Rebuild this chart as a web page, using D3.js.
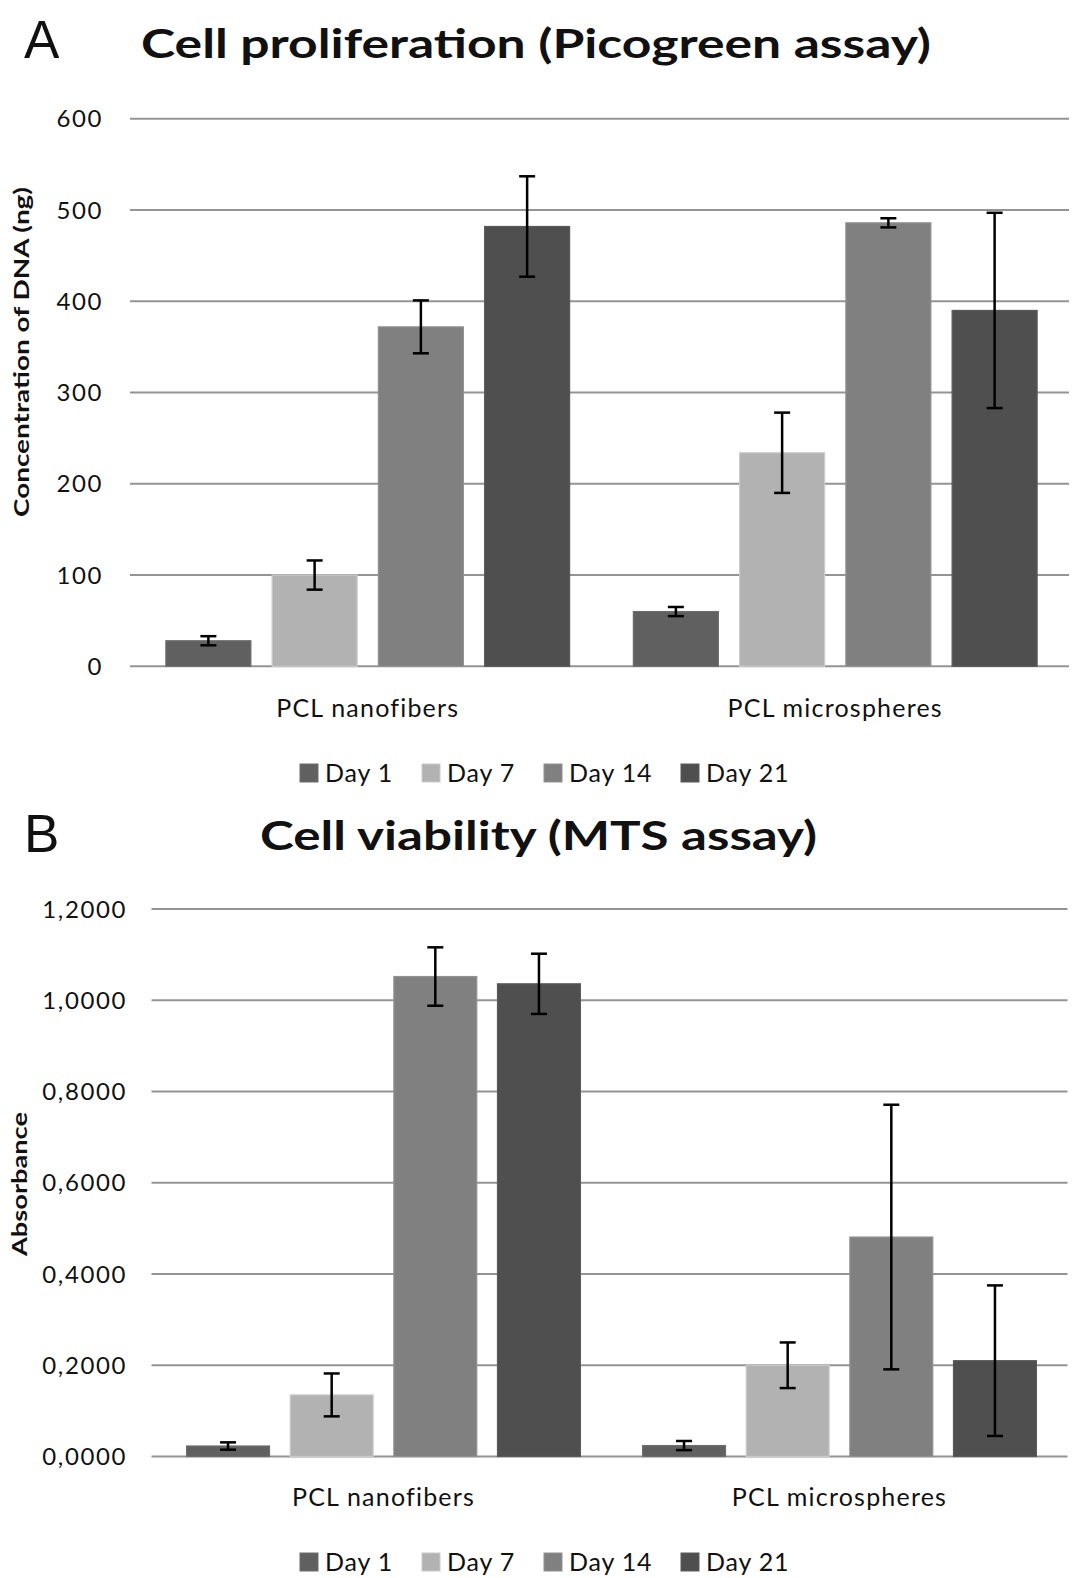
<!DOCTYPE html>
<html>
<head>
<meta charset="utf-8">
<script src="https://cdn.jsdelivr.net/npm/d3@7"></script>
<style>
  body { margin: 0; background: #fff; }
  text { font-family: Lato, 'Open Sans', sans-serif; fill: #111; }
</style>
</head>
<body>
<div id="chart"></div>
<script>
const groups = ['PCL nanofibers', 'PCL microspheres'];
const days = ['Day 1', 'Day 7', 'Day 14', 'Day 21'];
const dayColors = ['#606060', '#b2b2b2', '#808080', '#4f4f4f'];

// picogreen, ng DNA
const dnaMean = [[28, 100, 372, 482], [60, 234, 486, 390]];
const dnaErr = [[5, 16, 29, 55], [5, 44, 5, 107]];
const dnaTicks = [0, 100, 200, 300, 400, 500, 600];

// MTS absorbance
const mtsMean = [[0.023, 0.135, 1.052, 1.036], [0.024, 0.200, 0.481, 0.210]];
const mtsErr = [[0.008, 0.047, 0.064, 0.066], [0.010, 0.050, 0.290, 0.165]];
const mtsTicks = [0, 0.2, 0.4, 0.6, 0.8, 1.0, 1.2];

const comma = d3.formatLocale({ decimal: ',', thousands: '.', grouping: [3], currency: ['', ''] });

const svg = d3.select('#chart').append('svg')
    .attr('width', 1075)
    .attr('height', 1578);

function panel(opt) {
    const rows = [];
    groups.forEach((g, gi) => days.forEach((d, di) => {
        rows.push({ group: g, day: d, di, v: opt.mean[gi][di], e: opt.err[gi][di] });
    }));

    const x0 = d3.scaleBand().domain(groups).range([opt.left, opt.right]);
    const x1 = d3.scaleBand().domain(days).range([0, x0.bandwidth()]).paddingInner(0.2).paddingOuter(0.3);
    const y = d3.scaleLinear().domain([0, d3.max(opt.ticks)]).range([opt.bottom, opt.top]);

    // letter
    svg.append('text').attr('x', 24).attr('y', opt.letterY)
        .style('font-family', 'Liberation Sans, Arial, sans-serif')
        .style('font-size', '53px').text(opt.letter);

    svg.append('text').attr('x', opt.titleX).attr('y', opt.titleY)
        .attr('textLength', opt.titleW).attr('lengthAdjust', 'spacingAndGlyphs')
        .style('font-size', '41px').style('font-weight', 700).text(opt.title);

    // grid
    const g = svg.append('g');
    g.selectAll('line.grid').data(opt.ticks).enter().append('line')
        .attr('x1', opt.left - 4).attr('x2', opt.right)
        .attr('y1', d => y(d)).attr('y2', d => y(d))
        .attr('stroke', '#949494').attr('stroke-width', 2);

    g.selectAll('text.tick').data(opt.ticks).enter().append('text')
        .attr('x', opt.tickX).attr('y', d => y(d)).attr('dy', '0.36em')
        .attr('text-anchor', 'end').style('font-size', '24px').style('letter-spacing', '1.6px')
        .text(opt.fmt);

    svg.append('text')
        .attr('transform', `translate(${opt.ylabX},${opt.ylabY}) rotate(-90)`)
        .attr('text-anchor', 'middle').attr('dy', '0.35em')
        .attr('textLength', opt.ylabW).attr('lengthAdjust', 'spacingAndGlyphs')
        .style('font-size', '20px').style('font-weight', 700).text(opt.ylab);

    // bars
    const bars = svg.append('g');
    bars.selectAll('rect').data(rows).enter().append('rect')
        .attr('x', d => x0(d.group) + x1(d.day))
        .attr('y', d => y(d.v))
        .attr('width', x1.bandwidth())
        .attr('height', d => y(0) - y(d.v))
        .attr('fill', d => dayColors[d.di])
        .attr('stroke', d => d3.color(dayColors[d.di]).brighter(0.35))
        .attr('stroke-width', 1.2);

    const eb = svg.append('g').attr('stroke', '#000').attr('stroke-width', 2.5);
    rows.forEach(d => {
        const cx = x0(d.group) + x1(d.day) + x1.bandwidth() / 2;
        eb.append('line').attr('x1', cx).attr('x2', cx).attr('y1', y(d.v + d.e)).attr('y2', y(d.v - d.e));
        [d.v + d.e, d.v - d.e].forEach(t => {
            eb.append('line').attr('x1', cx - 8).attr('x2', cx + 8).attr('y1', y(t)).attr('y2', y(t));
        });
    });

    // category labels
    svg.selectAll(null).data(groups).enter().append('text')
        .attr('x', d => x0(d) + x0.bandwidth() / 2).attr('y', opt.catY)
        .attr('text-anchor', 'middle').style('font-size', '25px').style('letter-spacing', '1.2px')
        .text(d => d);

    // legend
    const legX = [300, 422, 544, 681];
    const leg = svg.append('g');
    days.forEach((d, i) => {
        leg.append('rect').attr('x', legX[i]).attr('y', opt.legY - 9).attr('width', 18).attr('height', 18)
            .attr('fill', dayColors[i]).attr('stroke', d3.color(dayColors[i]).brighter(0.35));
        leg.append('text').attr('x', legX[i] + 25).attr('y', opt.legY).attr('dy', '0.36em')
            .style('font-size', '25px').style('letter-spacing', '0.8px').text(d);
    });
}

panel({
    letter: 'A', letterY: 58,
    title: 'Cell proliferation (Picogreen assay)', titleX: 141, titleY: 58, titleW: 790,
    mean: dnaMean, err: dnaErr, ticks: dnaTicks,
    left: 134, right: 1069, top: 118.8, bottom: 666.3,
    tickX: 103, fmt: d => d3.format('d')(d),
    ylab: 'Concentration of DNA (ng)', ylabX: 22, ylabY: 352, ylabW: 330,
    catY: 717, legY: 773
});

panel({
    letter: 'B', letterY: 852,
    title: 'Cell viability (MTS assay)', titleX: 260, titleY: 850, titleW: 557,
    mean: mtsMean, err: mtsErr, ticks: mtsTicks,
    left: 155.5, right: 1067.5, top: 909, bottom: 1456.5,
    tickX: 127, fmt: d => comma.format('.4f')(d),
    ylab: 'Absorbance', ylabX: 20, ylabY: 1184, ylabW: 144,
    catY: 1506, legY: 1562
});
</script>
</body>
</html>
